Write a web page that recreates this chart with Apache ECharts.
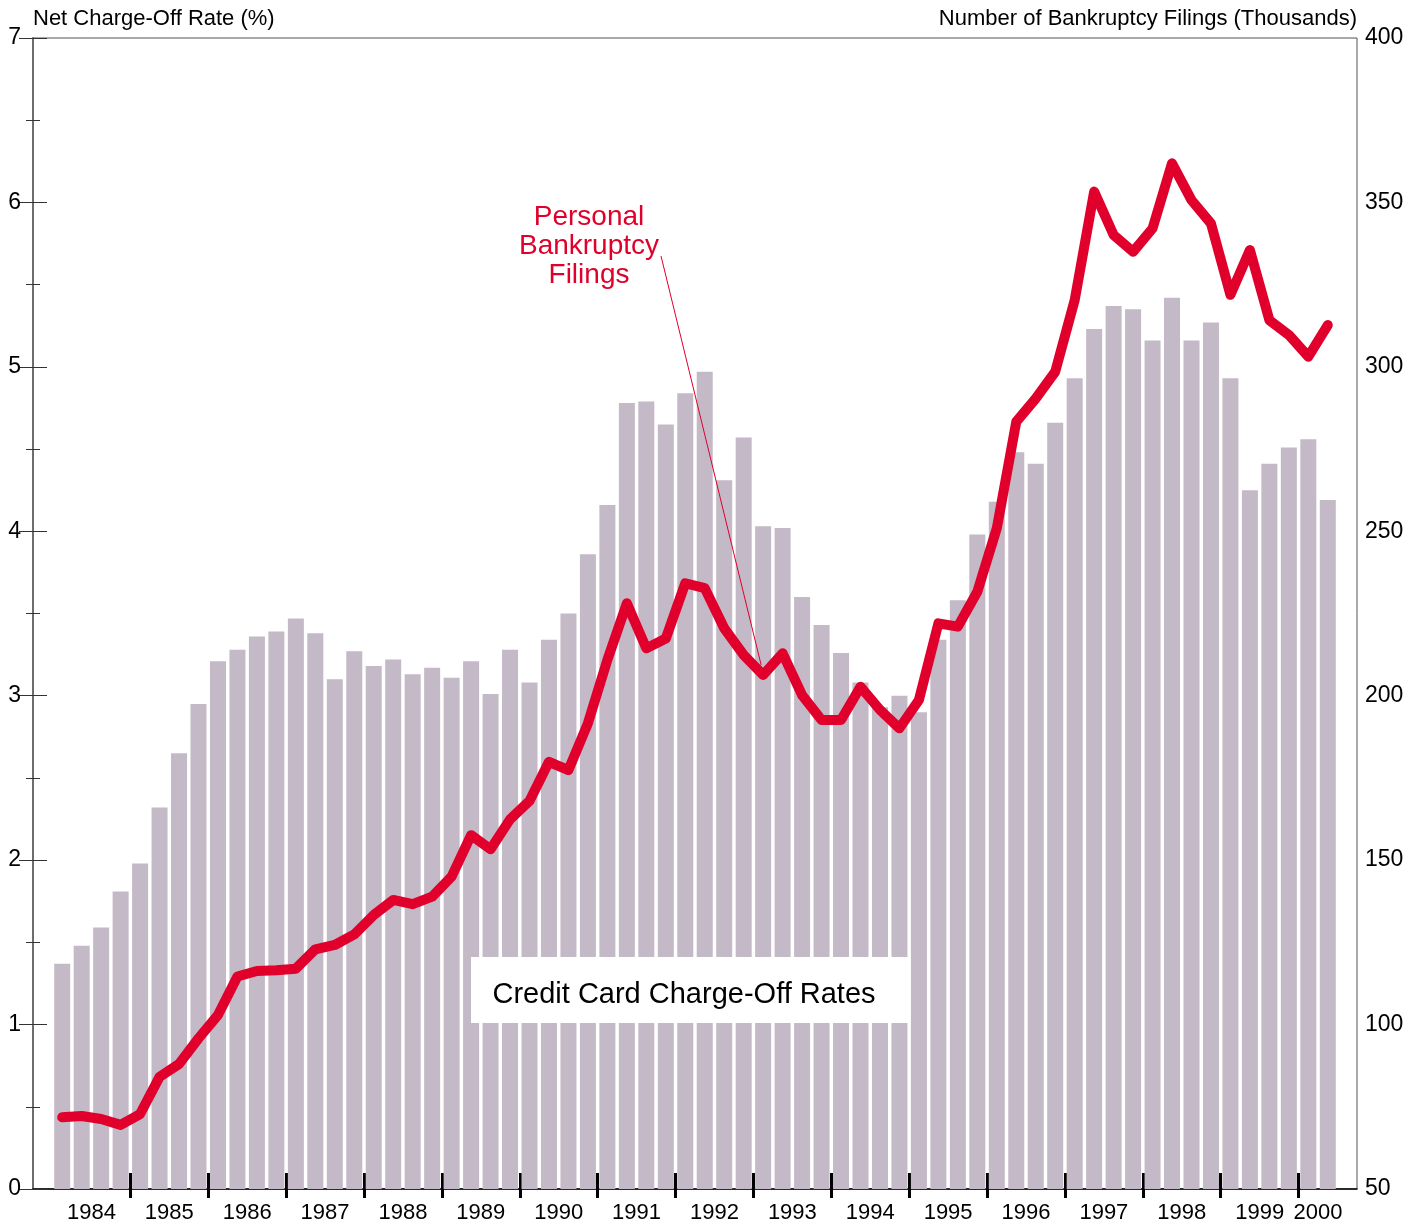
<!DOCTYPE html>
<html>
<head>
<meta charset="utf-8">
<title>Credit Card Charge-Off Rates and Personal Bankruptcy Filings</title>
<script src="https://cdn.jsdelivr.net/npm/echarts@6/dist/echarts.min.js"></script>
<style>
  html, body { margin: 0; padding: 0; background: #fff; }
  #chart { width: 1424px; height: 1230px; }
</style>
</head>
<body>
<div id="chart"></div>
<script>
// quarterly data, 1984 Q1 - 2000 Q2
var years = ['1984', '1985', '1986', '1987', '1988', '1989', '1990', '1991', '1992',
  '1993', '1994', '1995', '1996', '1997', '1998', '1999', '2000'];

// net charge-off rate (%), left axis
var chargeOffRates = [
  1.37, 1.48, 1.59, 1.81,   1.98, 2.32, 2.65, 2.95,   3.21, 3.28, 3.36, 3.39,
  3.47, 3.38, 3.10, 3.27,   3.18, 3.22, 3.13, 3.17,   3.11, 3.21, 3.01, 3.28,
  3.08, 3.34, 3.50, 3.86,   4.16, 4.78, 4.79, 4.65,   4.84, 4.97, 4.31, 4.57,
  4.03, 4.02, 3.60, 3.43,   3.26, 3.08, 2.93, 3.00,   2.90, 3.34, 3.58, 3.98,
  4.18, 4.48, 4.41, 4.66,   4.93, 5.23, 5.37, 5.35,   5.16, 5.42, 5.16, 5.27,
  4.93, 4.25, 4.41, 4.51,   4.56, 4.19
];

// personal bankruptcy filings (thousands), right axis
var bankruptcyFilings = [
  71.8, 72.2, 71.3, 69.5,   72.8, 84.1, 88.0, 95.8,   102.9, 114.6, 116.3, 116.5,
  117.0, 122.9, 124.2, 127.4,   133.3, 137.9, 136.6, 138.9,   145.0, 157.6, 153.3, 162.4,
  168.0, 179.9, 177.4, 191.6,   210.9, 228.1, 214.4, 217.4,   234.2, 232.7, 220.5, 212.4,
  206.3, 212.9, 200.2, 192.6,   192.6, 202.7, 195.7, 190.1,   198.7, 222.0, 221.0, 231.6,
  250.9, 283.3, 290.4, 298.5,   320.3, 353.3, 340.1, 335.0,   342.1, 361.9, 350.7, 343.6,
  321.9, 335.5, 314.2, 309.7,   303.1, 312.7
];

var leftTicks = { min: 0, max: 7, interval: 1 };
var rightTicks = { min: 50, max: 400, interval: 50 };

var RED = '#e0002b';
var BAR = '#c4b9c6';

// one empty slot before and after the data
var categories = [''];
for (var i = 0; i < chargeOffRates.length; i++) {
  categories.push(years[Math.floor(i / 4)] + ' Q' + (i % 4 + 1));
}
categories.push('');
var slots = categories.length;

var barData = [null].concat(chargeOffRates, [null]);
var lineData = [null].concat(bankruptcyFilings, [null]);

// year boundaries and year label centres, in slot units
var yearTickPos = [];
var yearLabelPos = [];
for (var y = 0; y < years.length; y++) {
  var start = 1 + 4 * y;
  var end = Math.min(start + 4, 1 + chargeOffRates.length);
  if (y > 0) yearTickPos.push(start);
  yearLabelPos.push((start + end) / 2);
}

var chart = echarts.init(document.getElementById('chart'));

var fontFamily = '"Liberation Sans", Arial, Helvetica, sans-serif';

var option = {
  animation: false,
  backgroundColor: '#fff',
  textStyle: { fontFamily: fontFamily },
  grid: {
    left: 33, right: 67, top: 38, bottom: 41,
    containLabel: false,
    outerBoundsMode: 'none',
    show: true, borderColor: '#555', borderWidth: 1, backgroundColor: 'transparent'
  },
  xAxis: [
    {
      type: 'category',
      data: categories,
      boundaryGap: true,
      show: false
    },
    {
      type: 'value',
      min: 0,
      max: slots,
      position: 'bottom',
      axisLine: { show: true, onZero: false, lineStyle: { color: '#000', width: 1.5 } },
      axisTick: {
        show: true, inside: true, length: 16, customValues: yearTickPos,
        lineStyle: { color: '#000', width: 3 }
      },
      axisLabel: {
        show: true, customValues: yearLabelPos, margin: 13, hideOverlap: false,
        color: '#000', fontSize: 22, fontFamily: fontFamily,
        formatter: function (v) {
          var idx = yearLabelPos.indexOf(v);
          return idx >= 0 ? years[idx] : '';
        }
      },
      splitLine: { show: false }
    },
    {
      type: 'value',
      min: 0,
      max: slots,
      position: 'bottom',
      axisLine: { show: false },
      axisTick: {
        show: true, inside: false, length: 9, customValues: yearTickPos,
        lineStyle: { color: '#000', width: 3 }
      },
      axisLabel: { show: false },
      splitLine: { show: false }
    }
  ],
  yAxis: [
    {
      type: 'value',
      position: 'left',
      min: leftTicks.min, max: leftTicks.max, interval: leftTicks.interval,
      name: 'Net Charge-Off Rate (%)',
      nameLocation: 'end',
      nameGap: 19,
      nameMoveOverlap: false,
      nameTextStyle: { color: '#000', fontSize: 22, align: 'left', verticalAlign: 'middle', fontFamily: fontFamily },
      axisLine: { show: true, lineStyle: { color: '#333', width: 1.5 } },
      axisTick: { show: true, inside: true, length: 14, lineStyle: { color: '#333', width: 1 } },
      minorTick: { show: true, splitNumber: 2, length: 7, lineStyle: { color: '#333', width: 1 } },
      axisLabel: { color: '#000', fontSize: 23, margin: 12, fontFamily: fontFamily },
      splitLine: { show: false }
    },
    {
      type: 'value',
      position: 'right',
      min: rightTicks.min, max: rightTicks.max, interval: rightTicks.interval,
      axisLine: { show: true, lineStyle: { color: '#777', width: 1.5 } },
      axisTick: { show: true, inside: true, length: 14, lineStyle: { color: '#333', width: 1 } },
      minorTick: { show: true, splitNumber: 2, length: 7, lineStyle: { color: '#333', width: 1 } },
      axisLabel: { color: '#000', fontSize: 23, margin: 8, fontFamily: fontFamily },
      splitLine: { show: false }
    }
  ],
  series: [
    {
      name: 'Credit Card Charge-Off Rates',
      type: 'bar',
      xAxisIndex: 0,
      yAxisIndex: 0,
      data: barData,
      barWidth: 16,
      itemStyle: { color: BAR },
      z: 1
    },
    {
      name: 'Personal Bankruptcy Filings',
      type: 'line',
      xAxisIndex: 0,
      yAxisIndex: 1,
      data: lineData,
      symbol: 'none',
      lineStyle: { color: RED, width: 10, cap: 'round', join: 'round' },
      z: 3
    }
  ]
};

chart.setOption(option);

// annotations: leader line ends just above the 1992 Q4 point
var target = chart.convertToPixel({ xAxisIndex: 0, yAxisIndex: 1 }, [categories[37], lineData[37]]);
// right axis title sits right-aligned over the right axis
var rightTop = chart.convertToPixel({ xAxisIndex: 1, yAxisIndex: 1 }, [slots, rightTicks.max]);

chart.setOption({
  graphic: [
    {
      type: 'text',
      x: rightTop[0], y: rightTop[1] - 19,
      z: 10,
      style: {
        text: 'Number of Bankruptcy Filings (Thousands)',
        fill: '#000',
        font: '22px ' + fontFamily,
        align: 'right',
        verticalAlign: 'middle'
      }
    },
    {
      type: 'text',
      x: 589, y: 203,
      z: 10,
      style: {
        text: 'Personal\nBankruptcy\nFilings',
        fill: RED,
        font: '28px ' + fontFamily,
        align: 'center',
        verticalAlign: 'top',
        lineHeight: 29
      }
    },
    {
      type: 'line',
      z: 10,
      shape: { x1: 661, y1: 256, x2: target[0] - 2, y2: target[1] - 10 },
      style: { stroke: RED, lineWidth: 1 }
    },
    {
      type: 'rect',
      z: 10,
      shape: { x: 471, y: 957, width: 439, height: 66 },
      style: { fill: '#fff' }
    },
    {
      type: 'text',
      z: 11,
      x: 684, y: 995,
      style: {
        text: 'Credit Card Charge-Off Rates',
        fill: '#000',
        font: '29px ' + fontFamily,
        align: 'center',
        verticalAlign: 'middle'
      }
    }
  ]
});
</script>
</body>
</html>
